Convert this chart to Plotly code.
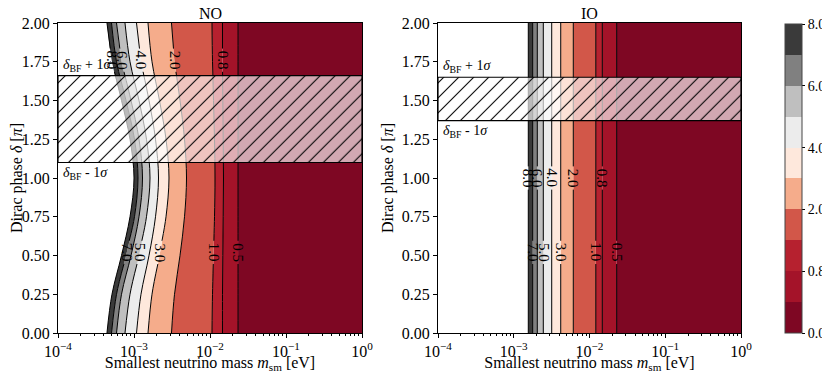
import numpy as np
import plotly.graph_objects as go

# ---------------- data ----------------
LEVELS = [0.0, 0.5, 0.8, 1.0, 2.0, 3.0, 4.0, 5.0, 6.0, 7.0, 8.0]
CBAR_TICK_LEVELS = [0.0, 0.8, 2.0, 4.0, 6.0, 8.0]

# Dirac phase samples (units of pi) at which the NO contour positions were read
NO_DELTA = [0.0, 0.25, 0.5, 0.75, 1.0, 1.25, 1.5, 1.75, 2.0]
# smallest mass (eV) on each NO contour line, per delta sample
NO_M_0p5 = [2.34e-2, 2.34e-2, 2.34e-2, 2.34e-2, 2.34e-2, 2.34e-2, 2.34e-2, 2.34e-2, 2.34e-2]
NO_M_0p8 = [1.46e-2, 1.46e-2, 1.474e-2, 1.492e-2, 1.505e-2, 1.492e-2, 1.474e-2, 1.46e-2, 1.46e-2]
NO_M_1 = [1.062e-2, 1.079e-2, 1.112e-2, 1.146e-2, 1.164e-2, 1.146e-2, 1.112e-2, 1.079e-2, 1.062e-2]
NO_M_2 = [3.114e-3, 3.411e-3, 4.030e-3, 4.618e-3, 4.907e-3, 4.618e-3, 4.030e-3, 3.411e-3, 3.114e-3]
NO_M_3 = [1.529e-3, 1.725e-3, 2.165e-3, 2.637e-3, 2.887e-3, 2.637e-3, 2.165e-3, 1.725e-3, 1.529e-3]
NO_M_4 = [1.079e-3, 1.236e-3, 1.576e-3, 1.918e-3, 2.101e-3, 1.918e-3, 1.576e-3, 1.236e-3, 1.079e-3]
NO_M_5 = [7.61e-4, 8.86e-4, 1.164e-3, 1.460e-3, 1.624e-3, 1.460e-3, 1.164e-3, 8.86e-4, 7.61e-4]
NO_M_6 = [5.89e-4, 6.85e-4, 9.13e-4, 1.164e-3, 1.294e-3, 1.164e-3, 9.13e-4, 6.85e-4, 5.89e-4]
NO_M_7 = [5.06e-4, 5.89e-4, 7.85e-4, 1.015e-3, 1.129e-3, 1.015e-3, 7.85e-4, 5.89e-4, 5.06e-4]
NO_M_8 = [4.41e-4, 5.13e-4, 6.85e-4, 8.86e-4, 1.00e-3, 8.86e-4, 6.85e-4, 5.13e-4, 4.41e-4]

# IO contours are independent of delta: smallest mass (eV) per level 0.5 ... 8.0
IO_M = [2.286e-2, 1.476e-2, 1.211e-2, 6.109e-3, 4.169e-3, 3.170e-3, 2.455e-3, 2.046e-3, 1.778e-3, 1.556e-3]

# delta_BF -/+ 1 sigma bands (units of pi)
NO_BAND = [1.10, 1.66]
IO_BAND = [1.37, 1.65]

X_TICKS = [1e-4, 1e-3, 1e-2, 1e-1, 1e0]
X_TICK_TEXT = ["10<sup>−4</sup>", "10<sup>−3</sup>", "10<sup>−2</sup>", "10<sup>−1</sup>", "10<sup>0</sup>"]
Y_TICKS = [0.0, 0.25, 0.5, 0.75, 1.0, 1.25, 1.5, 1.75, 2.0]

# clabel placement (delta where each label sits)
NO_LABEL_DELTA = {8.0: 1.76, 6.0: 1.76, 4.0: 1.76, 2.0: 1.76, 0.8: 1.76,
                  7.0: 0.52, 5.0: 0.52, 3.0: 0.52, 1.0: 0.52, 0.5: 0.52}
IO_LABEL_DELTA = {8.0: 1.0, 6.0: 1.0, 4.0: 1.0, 2.0: 1.0, 0.8: 1.0,
                  7.0: 0.52, 5.0: 0.52, 3.0: 0.52, 1.0: 0.52, 0.5: 0.52}

# ---------------- style ----------------
BAND_COLORS = ["#7e0723", "#a41329", "#b6212f", "#d25749", "#f5ac8b",
               "#fee8dc", "#ececec", "#bfbfbf", "#808080", "#3a3a3a"]
FONT = "Liberation Serif, Times New Roman, serif"
# the page body has an 8 px margin, so the figure is 822x365 and offsets are shifted by 8 px
W, H, OFF = 822, 365, 8
X_DOMAINS = [[(58 - OFF) / W, (362 - OFF) / W], [(438 - OFF) / W, (741 - OFF) / W]]
Y_DOMAIN = [(H - (333 - OFF)) / H, (H - (23 - OFF)) / H]
HALF_GAP = 0.075

NO_LINES = {0.5: NO_M_0p5, 0.8: NO_M_0p8, 1.0: NO_M_1, 2.0: NO_M_2, 3.0: NO_M_3,
            4.0: NO_M_4, 5.0: NO_M_5, 6.0: NO_M_6, 7.0: NO_M_7, 8.0: NO_M_8}
IO_LINES = {lv: [m, m] for lv, m in zip(LEVELS[1:], IO_M)}

fig = go.Figure()
annotations = []


def add_panel(lines, deltas, band, label_delta, xa, ya, title):
    # right edge reference trace
    fig.add_trace(go.Scatter(x=[1e0, 1e0], y=[0, 2], mode="lines", line=dict(width=0),
                             xaxis=xa, yaxis=ya, showlegend=False, hoverinfo="skip"))
    # filled bands from right (low values) to left (high values)
    for i, lv in enumerate(LEVELS[1:]):
        fig.add_trace(go.Scatter(x=lines[lv], y=deltas, mode="lines",
                                 line=dict(width=0, shape="spline"),
                                 fill="tonextx", fillcolor=BAND_COLORS[i],
                                 xaxis=xa, yaxis=ya, showlegend=False, hoverinfo="skip"))
    # contour lines with gaps at the labels
    d = np.array(deltas, dtype=float)
    for lv in LEVELS[1:]:
        logm = np.log10(np.array(lines[lv], dtype=float))
        ld = label_delta[lv]
        lo, hi = ld - HALF_GAP, ld + HALF_GAP
        xs, ys = [], []
        mlo = d < lo
        xs += list(10 ** logm[mlo]) + [10 ** np.interp(lo, d, logm), None]
        ys += list(d[mlo]) + [lo, None]
        mhi = d > hi
        xs += [10 ** np.interp(hi, d, logm)] + list(10 ** logm[mhi])
        ys += [hi] + list(d[mhi])
        fig.add_trace(go.Scatter(x=xs, y=ys, mode="lines",
                                 line=dict(color="black", width=1, shape="spline"),
                                 connectgaps=False,
                                 xaxis=xa, yaxis=ya, showlegend=False, hoverinfo="skip"))
        annotations.append(dict(x=float(np.interp(ld, d, logm)), y=ld, xref=xa, yref=ya,
                                text=f"{lv:.1f}", textangle=90, showarrow=False,
                                font=dict(family=FONT, size=15, color="black")))
    # hatched 1-sigma band
    fig.add_trace(go.Scatter(x=[1e-4, 1e0, 1e0, 1e-4, 1e-4],
                             y=[band[0], band[0], band[1], band[1], band[0]],
                             mode="lines", line=dict(color="black", width=1.2),
                             fill="toself", fillcolor="rgba(255,255,255,0.65)",
                             fillpattern=dict(shape="/", size=10.6, solidity=0.1,
                                              fgcolor="black", fgopacity=1,
                                              bgcolor="rgba(255,255,255,0.65)",
                                              fillmode="replace"),
                             xaxis=xa, yaxis=ya, showlegend=False, hoverinfo="skip"))
    annotations.append(dict(x=-4, y=band[1], xref=xa, yref=ya, xanchor="left", yanchor="bottom",
                            xshift=3, yshift=0, showarrow=False,
                            text="<i>δ</i><sub>BF</sub> + 1<i>σ</i>",
                            font=dict(family=FONT, size=14, color="black")))
    annotations.append(dict(x=-4, y=band[0], xref=xa, yref=ya, xanchor="left", yanchor="top",
                            xshift=3, yshift=0, showarrow=False,
                            text="<i>δ</i><sub>BF</sub> - 1<i>σ</i>",
                            font=dict(family=FONT, size=14, color="black")))
    annotations.append(dict(x=-2, y=2, xref=xa, yref=ya, xanchor="center", yanchor="bottom",
                            height=12, borderpad=0, valign="middle",
                            yshift=3, showarrow=False, text=title,
                            font=dict(family=FONT, size=16, color="black")))


add_panel(NO_LINES, NO_DELTA, NO_BAND, NO_LABEL_DELTA, "x", "y", "NO")
add_panel(IO_LINES, [0.0, 2.0], IO_BAND, IO_LABEL_DELTA, "x2", "y2", "IO")

# discrete colorbar (uniform spacing like matplotlib contourf colorbar)
n = len(BAND_COLORS)
cscale = []
for i, c in enumerate(BAND_COLORS):
    cscale += [[i / n, c], [(i + 1) / n, c]]
fig.add_trace(go.Scatter(x=[1e-6], y=[-5], mode="markers",
                         marker=dict(color=[0], colorscale=cscale, cmin=0, cmax=n, size=1, opacity=0,
                                     showscale=True,
                                     colorbar=dict(tickvals=[LEVELS.index(v) for v in CBAR_TICK_LEVELS],
                                                   ticktext=[f"{v:.1f}" for v in CBAR_TICK_LEVELS],
                                                   ticks="outside", ticklen=3, tickcolor="black",
                                                   outlinecolor="#444", outlinewidth=1,
                                                   thickness=17, lenmode="pixels", len=309,
                                                   x=(785 - OFF) / W, xanchor="left", xpad=0,
                                                   y=1 - (178.5 - OFF) / H, yanchor="middle", ypad=0,
                                                   tickfont=dict(family=FONT, size=14, color="black"))),
                         showlegend=False, hoverinfo="skip"))

minor_vals = [k * 10.0 ** e for e in range(-4, 0) for k in range(2, 10)]
xax = dict(type="log", range=[-4, 0], tickvals=X_TICKS, ticktext=X_TICK_TEXT,
           ticks="outside", ticklen=4, tickcolor="black", showgrid=False, zeroline=False,
           showline=True, linecolor="black", linewidth=1, mirror=True, automargin=False,
           minor=dict(ticks="outside", ticklen=2, tickcolor="black", tickvals=minor_vals, showgrid=False),
           tickfont=dict(family=FONT, size=16, color="black"),
           title=dict(text="Smallest neutrino mass <i>m</i><sub>sm</sub> [eV]", standoff=1,
                      font=dict(family=FONT, size=16, color="black")))
yax = dict(range=[0, 2], tickvals=Y_TICKS, tickformat=".2f", ticks="outside", ticklen=4,
           tickcolor="black", showgrid=False, zeroline=False, automargin=False,
           showline=True, linecolor="black", linewidth=1, mirror=True,
           tickfont=dict(family=FONT, size=16, color="black"),
           title=dict(text="Dirac phase <i>δ</i> [<i>π</i>]", standoff=4,
                      font=dict(family=FONT, size=16, color="black")))

fig.update_layout(
    width=W, height=H, margin=dict(l=0, r=0, t=0, b=0, autoexpand=False),
    paper_bgcolor="white", plot_bgcolor="white", showlegend=False,
    xaxis=dict(xax, domain=X_DOMAINS[0], anchor="y"),
    yaxis=dict(yax, domain=Y_DOMAIN, anchor="x"),
    xaxis2=dict(xax, domain=X_DOMAINS[1], anchor="y2"),
    yaxis2=dict(yax, domain=Y_DOMAIN, anchor="x2"),
    annotations=annotations,
    font=dict(family=FONT, size=16, color="black"),
)

fig.write_html("out.html")
